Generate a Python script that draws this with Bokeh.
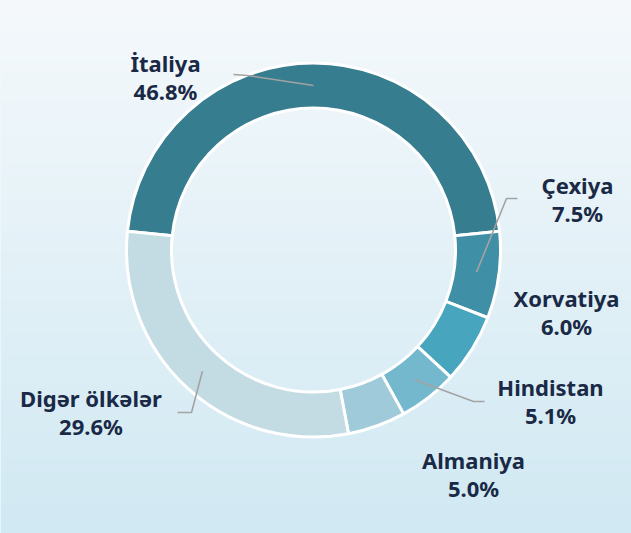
import numpy as np
from bokeh.plotting import figure
from bokeh.models import Range1d
from bokeh.core.properties import value
from bokeh.embed import file_html
from bokeh.resources import INLINE

# ---- data ----
countries = ["İtaliya", "Çexiya", "Xorvatiya", "Hindistan", "Almaniya", "Digər ölkələr"]
shares = [46.8, 7.5, 6.0, 5.1, 5.0, 29.6]
pct_labels = ["46.8%", "7.5%", "6.0%", "5.1%", "5.0%", "29.6%"]
colors = ["#367d8f", "#3f8fa7", "#47a5bd", "#73b8cd", "#9ecad9", "#c3dce4"]

# ---- layout (figure pixels, y up) ----
W, H = 631, 533
CX, CY = 313, 283.5
R_IN, R_OUT = 142, 187
R_MID = (R_IN + R_OUT) / 2

def pg(sx, sy):
    # page pixel -> figure coordinate
    return sx, H - sy

TEXT_SHIFT = 9
# label centre x, baseline y of first line (page pixels)
label_pos = [(165, 71), (577, 193), (566, 306), (550, 395), (473, 468), (90.5, 406)]
# leader line: outer end and elbow (page pixels), None = no leader
leaders = [((233, 74), (247, 75)), ((517, 198), (506, 198)), None,
           ((484, 401), (473, 401)), None, ((177, 412), (191, 412))]
LINE_GAP = 28

p = figure(width=W, height=H, output_backend="svg", toolbar_location=None,
           x_range=Range1d(0, W), y_range=Range1d(0, H), min_border=0)
p.axis.visible = False
p.grid.visible = False
p.outline_line_color = None
p.background_fill_color = "#e6f1f7"
p.border_fill_color = "#e6f1f7"

# background gradient
top = np.array([245, 249, 252], dtype=float)
bot = np.array([209, 233, 243], dtype=float)
rows = H
img = np.empty((rows, 4), dtype=np.uint32)
view = img.view(dtype=np.uint8).reshape((rows, 4, 4))
for r in range(rows):
    t = r / (rows - 1)  # r=0 is bottom
    c = bot * (1 - t) + top * t
    view[r, :, 0] = int(c[0]); view[r, :, 1] = int(c[1]); view[r, :, 2] = int(c[2]); view[r, :, 3] = 255
p.image_rgba(image=[img], x=0, y=0, dw=W, dh=H)

# wedges
total = sum(shares)
start0 = 90 + shares[0] / total * 360 / 2
starts, ends, mids = [], [], []
a = start0
for s in shares:
    span = s / total * 360
    starts.append(np.radians(a))
    ends.append(np.radians(a - span))
    mids.append(np.radians(a - span / 2))
    a -= span

p.annular_wedge(x=CX, y=CY, inner_radius=R_IN, outer_radius=R_OUT,
                start_angle=starts, end_angle=ends, direction="clock",
                fill_color=colors, line_color="white", line_width=3)

# leader lines
for i, ld in enumerate(leaders):
    if ld is None:
        continue
    (o, e) = ld
    ox, oy = pg(*o)
    ex, ey = pg(*e)
    ix = CX + R_MID * np.cos(mids[i])
    iy = CY + R_MID * np.sin(mids[i])
    p.line(x=[ox, ex, ix], y=[oy, ey, iy], line_color="#a3a3a3", line_width=1.6)

# labels
lx = [pg(*lp)[0] for lp in label_pos]
ly1 = [pg(*lp)[1] + TEXT_SHIFT for lp in label_pos]
ly2 = [y - LINE_GAP for y in ly1]
common = dict(text_font=value("Noto Sans"), text_font_style="bold", text_font_size="22px",
              text_color="#1a2946", text_align="center", text_baseline="alphabetic")
p.text(x=lx, y=ly1, text=countries, **common)
p.text(x=lx, y=ly2, text=pct_labels, **common)

open("out.html", "w").write(file_html(p, INLINE))
